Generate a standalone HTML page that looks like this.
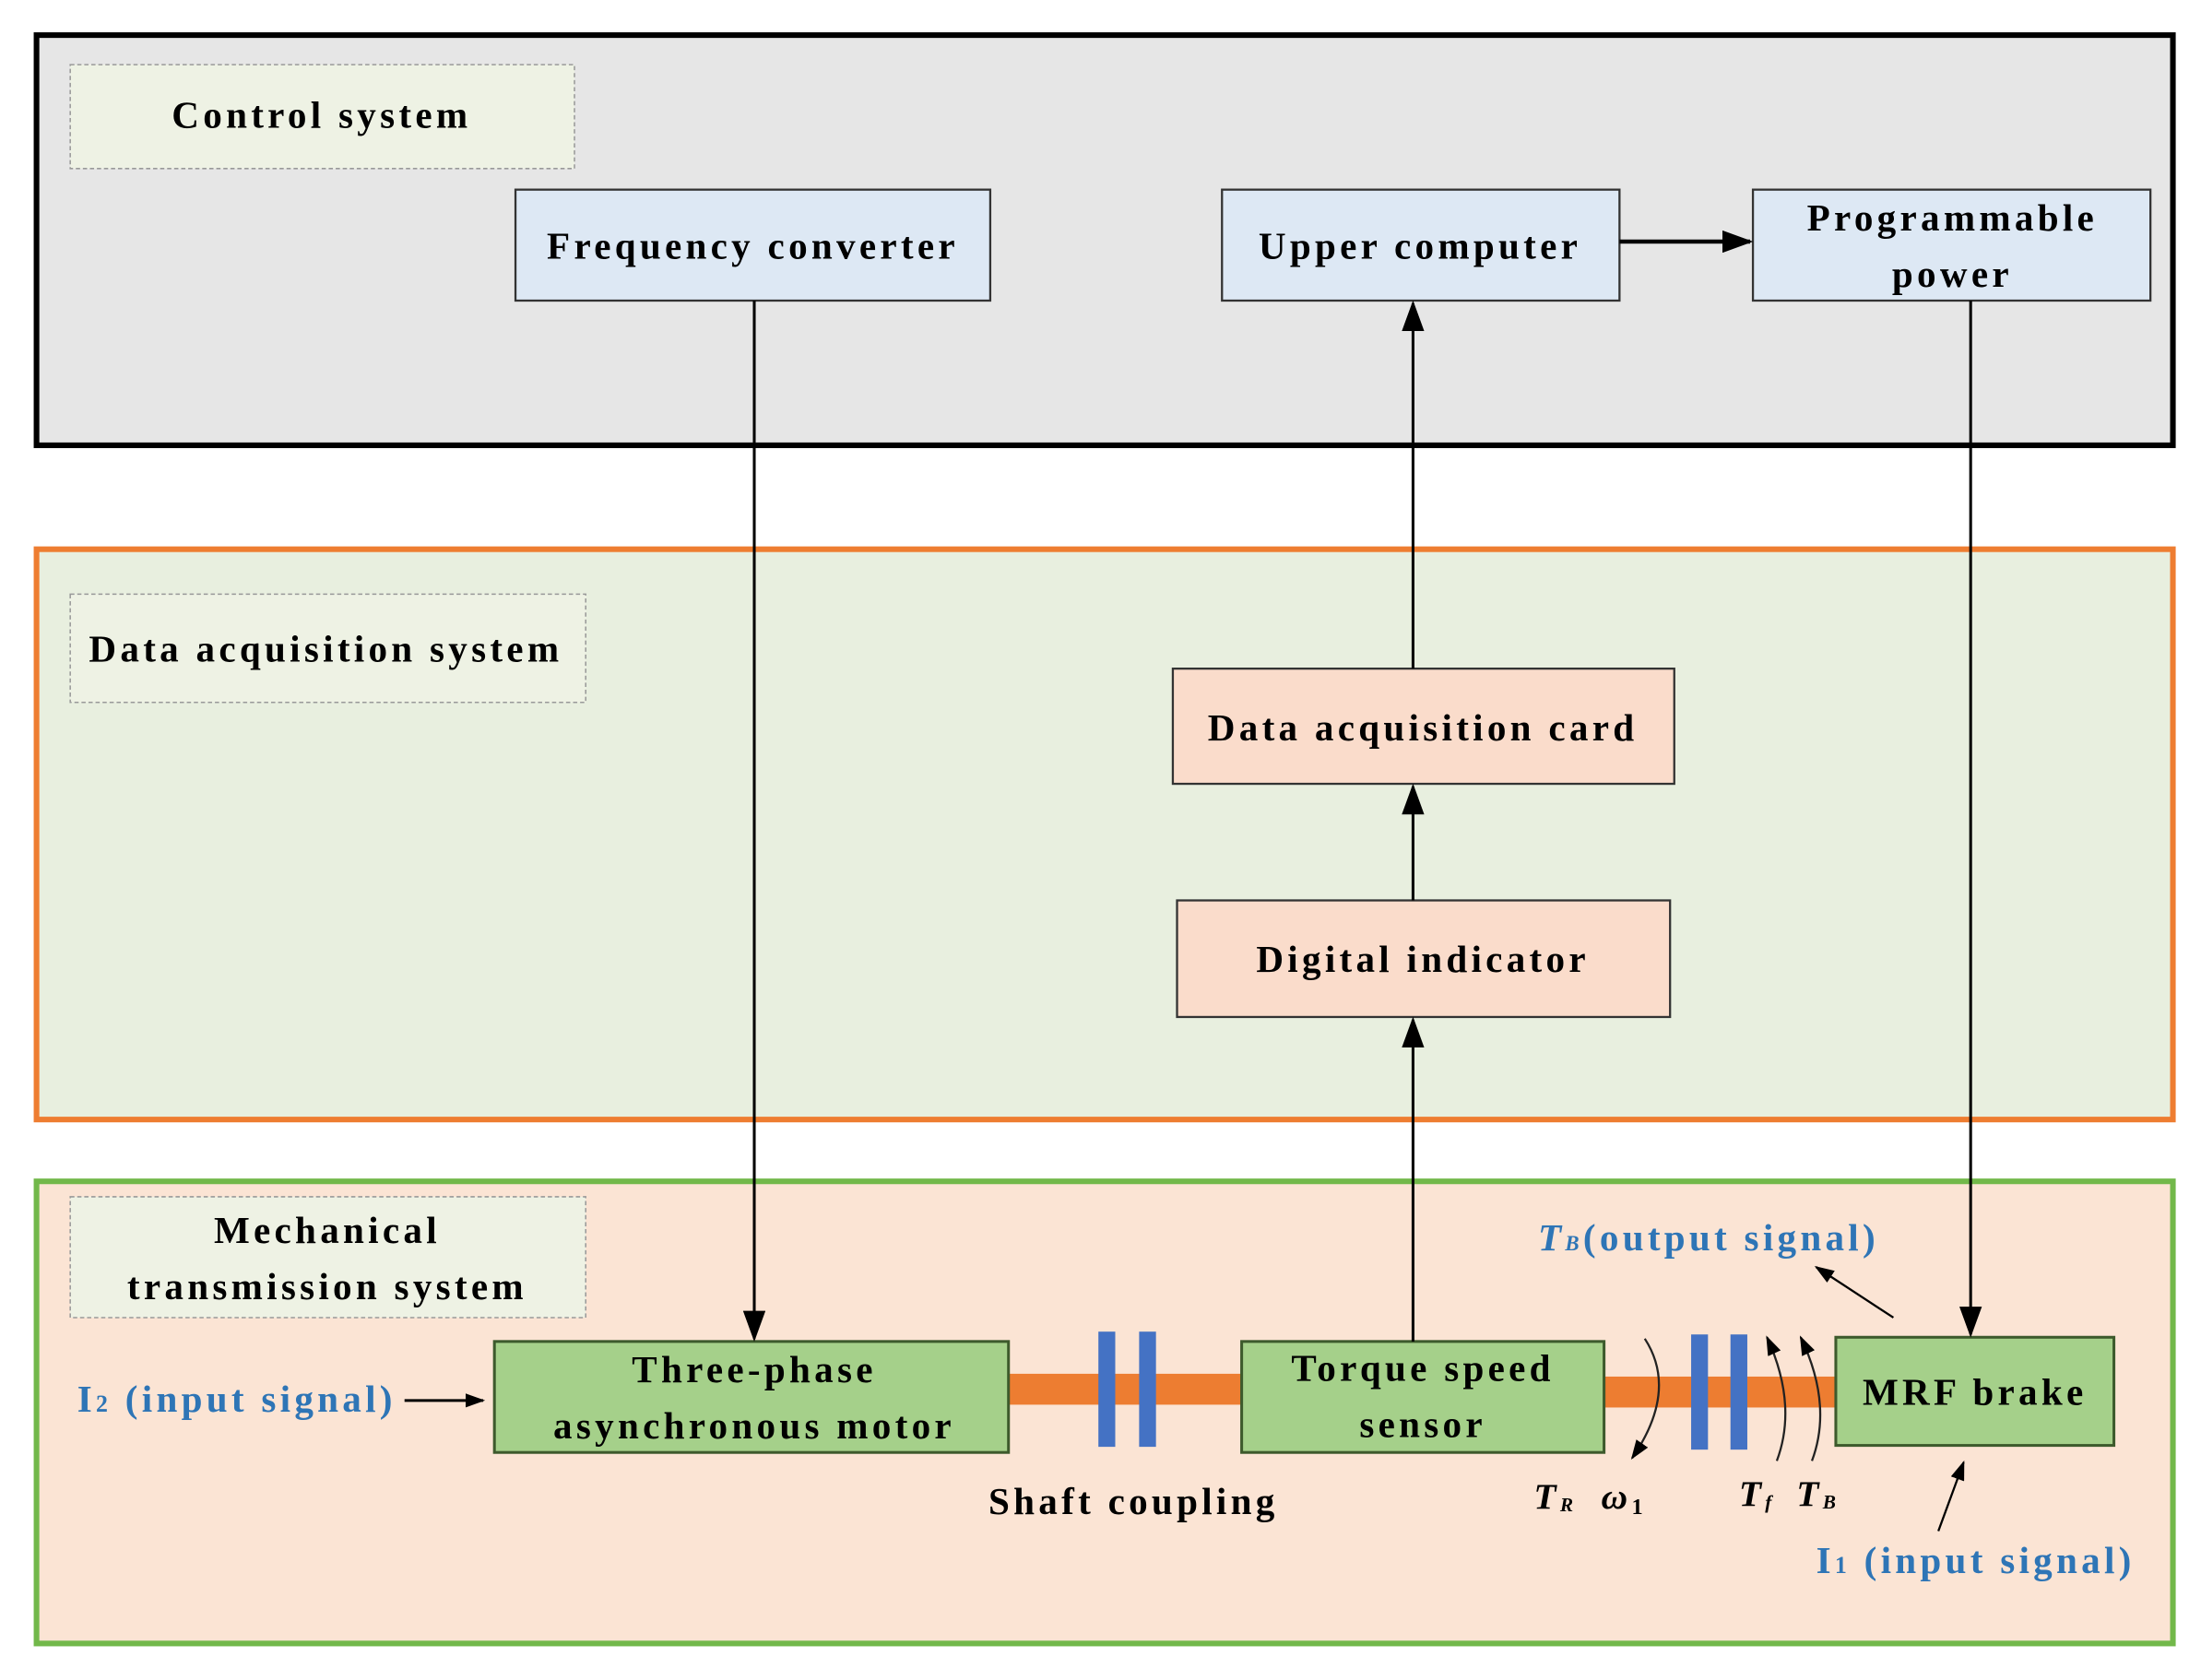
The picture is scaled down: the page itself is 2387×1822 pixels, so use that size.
<!DOCTYPE html>
<html><head><meta charset="utf-8"><style>
html,body{margin:0;padding:0;background:#fff;}
svg{display:block;}
text{font-family:"Liberation Serif",serif;font-weight:bold;letter-spacing:2.8px;}
</style></head><body>
<svg width="2387" height="1822" viewBox="0 0 1567 1196" preserveAspectRatio="none" xmlns="http://www.w3.org/2000/svg">
<defs>
<marker id="ab" viewBox="0 0 10 10" refX="9" refY="5" markerWidth="22" markerHeight="16" orient="auto" markerUnits="userSpaceOnUse" preserveAspectRatio="none">
<path d="M0,0 L10,5 L0,10 z" fill="#000"/></marker>
<marker id="as" viewBox="0 0 10 10" refX="9" refY="5" markerWidth="14" markerHeight="10" orient="auto" markerUnits="userSpaceOnUse" preserveAspectRatio="none">
<path d="M0,0 L10,5 L0,10 z" fill="#000"/></marker>
</defs>
<rect width="1567" height="1196" fill="#fff"/>
<rect x="26" y="25" width="1521" height="292" fill="#e6e6e6" stroke="#000" stroke-width="4"/>
<rect x="50" y="46" width="359" height="74" fill="#eef2e4" stroke="#999" stroke-width="1" stroke-dasharray="3,2"/>
<text x="229" y="91" font-size="27" text-anchor="middle">Control system</text>
<rect x="367" y="135" width="338" height="79" fill="#dde8f4" stroke="#333" stroke-width="1.5"/>
<text x="536" y="184" font-size="27" text-anchor="middle">Frequency converter</text>
<rect x="870" y="135" width="283" height="79" fill="#dde8f4" stroke="#333" stroke-width="1.5"/>
<text x="1011" y="184" font-size="27" text-anchor="middle">Upper computer</text>
<rect x="1248" y="135" width="283" height="79" fill="#dde8f4" stroke="#333" stroke-width="1.5"/>
<text x="1390" y="164" font-size="27" text-anchor="middle">Programmable</text>
<text x="1390" y="204" font-size="27" text-anchor="middle">power</text>
<line x1="1153" y1="172" x2="1246" y2="172" stroke="#000" stroke-width="3" marker-end="url(#ab)"/>
<rect x="26" y="391" width="1521" height="406" fill="#e8efdf" stroke="#ee7d31" stroke-width="4"/>
<rect x="50" y="423" width="367" height="77" fill="#eef2e4" stroke="#999" stroke-width="1" stroke-dasharray="3,2"/>
<text x="232" y="471" font-size="27" text-anchor="middle">Data acquisition system</text>
<rect x="835" y="476" width="357" height="82" fill="#fadccb" stroke="#333" stroke-width="1.5"/>
<text x="1013" y="527" font-size="27" text-anchor="middle">Data acquisition card</text>
<rect x="838" y="641" width="351" height="83" fill="#fadccb" stroke="#333" stroke-width="1.5"/>
<text x="1013" y="692" font-size="27" text-anchor="middle">Digital indicator</text>
<rect x="26" y="841" width="1521" height="329" fill="#fbe4d4" stroke="#72b84a" stroke-width="4"/>
<rect x="50" y="852" width="367" height="86" fill="#eef2e4" stroke="#999" stroke-width="1" stroke-dasharray="3,2"/>
<text x="233" y="885" font-size="27" text-anchor="middle">Mechanical</text>
<text x="233" y="925" font-size="27" text-anchor="middle">transmission system</text>
<rect x="718" y="978" width="166" height="22" fill="#ed7d31"/>
<rect x="1142" y="980" width="165" height="22" fill="#ed7d31"/>
<rect x="782" y="948" width="12" height="82" fill="#4472c4"/>
<rect x="811" y="948" width="12" height="82" fill="#4472c4"/>
<rect x="1204" y="950" width="12" height="82" fill="#4472c4"/>
<rect x="1232" y="950" width="12" height="82" fill="#4472c4"/>
<rect x="352" y="955" width="366" height="79" fill="#a5d08a" stroke="#3d5a2c" stroke-width="2"/>
<text x="537" y="984" font-size="27" text-anchor="middle">Three-phase</text>
<text x="537" y="1024" font-size="27" text-anchor="middle">asynchronous motor</text>
<rect x="884" y="955" width="258" height="79" fill="#a5d08a" stroke="#3d5a2c" stroke-width="2"/>
<text x="1013" y="983" font-size="27" text-anchor="middle">Torque speed</text>
<text x="1013" y="1023" font-size="27" text-anchor="middle">sensor</text>
<rect x="1307" y="952" width="198" height="77" fill="#a5d08a" stroke="#3d5a2c" stroke-width="2"/>
<text x="1406" y="1000" font-size="27" text-anchor="middle">MRF brake</text>
<text x="807" y="1078" font-size="27" text-anchor="middle">Shaft coupling</text>
<path d="M1171,953 Q1195,990 1162,1038" fill="none" stroke="#222" stroke-width="1.5" marker-end="url(#as)"/>
<path d="M1265,1040 Q1280,1000 1258,952" fill="none" stroke="#222" stroke-width="1.5" marker-end="url(#as)"/>
<path d="M1290,1040 Q1305,1000 1282,952" fill="none" stroke="#222" stroke-width="1.5" marker-end="url(#as)"/>
<text x="1092" y="1074" font-size="26" font-style="italic" font-weight="normal">T<tspan font-size="14" dy="2">R</tspan></text>
<text x="1140" y="1074" font-size="26" font-style="italic" font-weight="normal">ω<tspan font-size="16" font-style="normal" dy="4">1</tspan></text>
<text x="1238" y="1072" font-size="26" font-style="italic" font-weight="normal">T<tspan font-size="14" dy="2">f</tspan></text>
<text x="1279" y="1072" font-size="26" font-style="italic" font-weight="normal">T<tspan font-size="14" dy="2">B</tspan></text>
<text x="55" y="1005" font-size="27" fill="#2e75b6">I<tspan font-size="17">2</tspan> (input signal)</text>
<line x1="288" y1="997" x2="344" y2="997" stroke="#000" stroke-width="2" marker-end="url(#as)"/>
<text x="1095" y="890" font-size="27" fill="#2e75b6"><tspan font-style="italic">T<tspan font-size="15">B</tspan></tspan>(output signal)</text>
<line x1="1348" y1="938" x2="1293" y2="902" stroke="#000" stroke-width="1.5" marker-end="url(#as)"/>
<text x="1293" y="1120" font-size="27" fill="#2e75b6">I<tspan font-size="17">1</tspan> (input signal)</text>
<line x1="1380" y1="1090" x2="1398" y2="1041" stroke="#000" stroke-width="1.5" marker-end="url(#as)"/>
<line x1="537" y1="214" x2="537" y2="953" stroke="#000" stroke-width="2" marker-end="url(#ab)"/>
<line x1="1403" y1="214" x2="1403" y2="950" stroke="#000" stroke-width="2" marker-end="url(#ab)"/>
<line x1="1006" y1="955" x2="1006" y2="726" stroke="#000" stroke-width="2" marker-end="url(#ab)"/>
<line x1="1006" y1="641" x2="1006" y2="560" stroke="#000" stroke-width="2" marker-end="url(#ab)"/>
<line x1="1006" y1="476" x2="1006" y2="216" stroke="#000" stroke-width="2" marker-end="url(#ab)"/>
</svg>
</body></html>
